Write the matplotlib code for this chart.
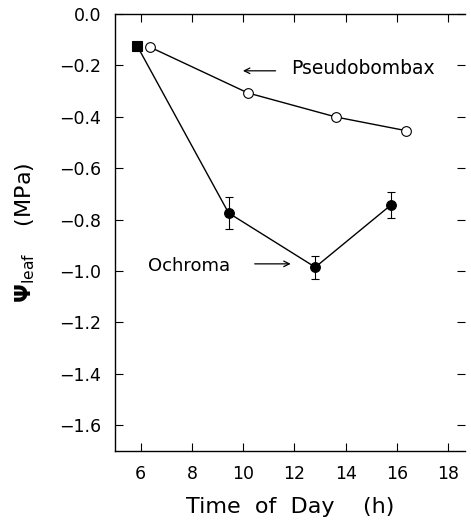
import matplotlib
matplotlib.use("Agg")
import matplotlib.pyplot as plt

# Leaf water potential over the day
ochroma_time = [5.87, 9.43, 12.81, 15.75]
ochroma_psi = [-0.125, -0.774, -0.985, -0.744]
ochroma_err = [0.0, 0.063, 0.045, 0.05]

pseudo_time = [6.37, 10.18, 13.63, 16.36]
pseudo_psi = [-0.129, -0.307, -0.401, -0.454]
pseudo_err = [0.0, 0.0, 0.012, 0.0]

x_ticks = [6, 8, 10, 12, 14, 16, 18]
y_ticks = [0.0, -0.2, -0.4, -0.6, -0.8, -1.0, -1.2, -1.4, -1.6]

plt.rcParams['font.family'] = ['DejaVu Sans']
plt.rcParams['mathtext.fontset'] = 'dejavusans'

fig = plt.figure(figsize=(4.71, 5.29), dpi=100)
ax = fig.add_axes([115 / 471, 1 - 451 / 529, (465 - 115) / 471, (451 - 14) / 529])


def draw_series(t, psi, err, face, first_marker):
    ax.plot(t, psi, color='black', lw=1.0, zorder=2)
    et = [a for a, e in zip(t, err) if e > 0]
    ep = [p for p, e in zip(psi, err) if e > 0]
    ee = [e for e in err if e > 0]
    ax.errorbar(et, ep, yerr=ee, fmt='none', ecolor='black', elinewidth=0.8,
                capsize=3, capthick=0.8, zorder=2)
    ax.plot(t[1:], psi[1:], linestyle='none', marker='o', ms=7, mfc=face,
            mec='black', mew=0.8, zorder=3)
    ax.plot(t[0], psi[0], linestyle='none', marker=first_marker,
            ms=6.5 if first_marker == 's' else 7, mfc=face, mec='black',
            mew=0.8, zorder=3)


draw_series(ochroma_time, ochroma_psi, ochroma_err, 'black', 's')
draw_series(pseudo_time, pseudo_psi, pseudo_err, 'white', 'o')

ax.set_xlim(5, 18.65)
ax.set_ylim(-1.7, 0.0)
ax.set_xticks(x_ticks)
ax.set_yticks(y_ticks)
ax.set_xticklabels([str(t) for t in x_ticks])
ax.set_yticklabels(['0.0'] + ['\u2212%.1f' % abs(v) for v in y_ticks[1:]])
ax.tick_params(direction='in', length=6, width=0.8, top=True, right=True,
               labelsize=12.5, pad=10)
for side in ['left', 'bottom', 'top']:
    ax.spines[side].set_linewidth(1.0)
ax.spines['right'].set_visible(False)

ax.set_xlabel('Time  of  Day    (h)', fontsize=16, labelpad=10)
ax.set_ylabel(r'$\mathbf{\Psi}_{\rm leaf}$    (MPa)', fontsize=16, labelpad=16)

# Series labels with arrows
ax.annotate('', xy=(9.88, -0.221), xytext=(11.37, -0.221),
            arrowprops=dict(arrowstyle='->', lw=0.9, color='black'))
ax.text(11.86, -0.212, 'Pseudobombax', fontsize=13.5, va='center', ha='left')
ax.annotate('', xy=(11.96, -0.972), xytext=(10.34, -0.972),
            arrowprops=dict(arrowstyle='->', lw=0.9, color='black'))
ax.text(6.29, -0.98, 'Ochroma', fontsize=13, va='center', ha='left')

fig.savefig('out.png', dpi=100)
